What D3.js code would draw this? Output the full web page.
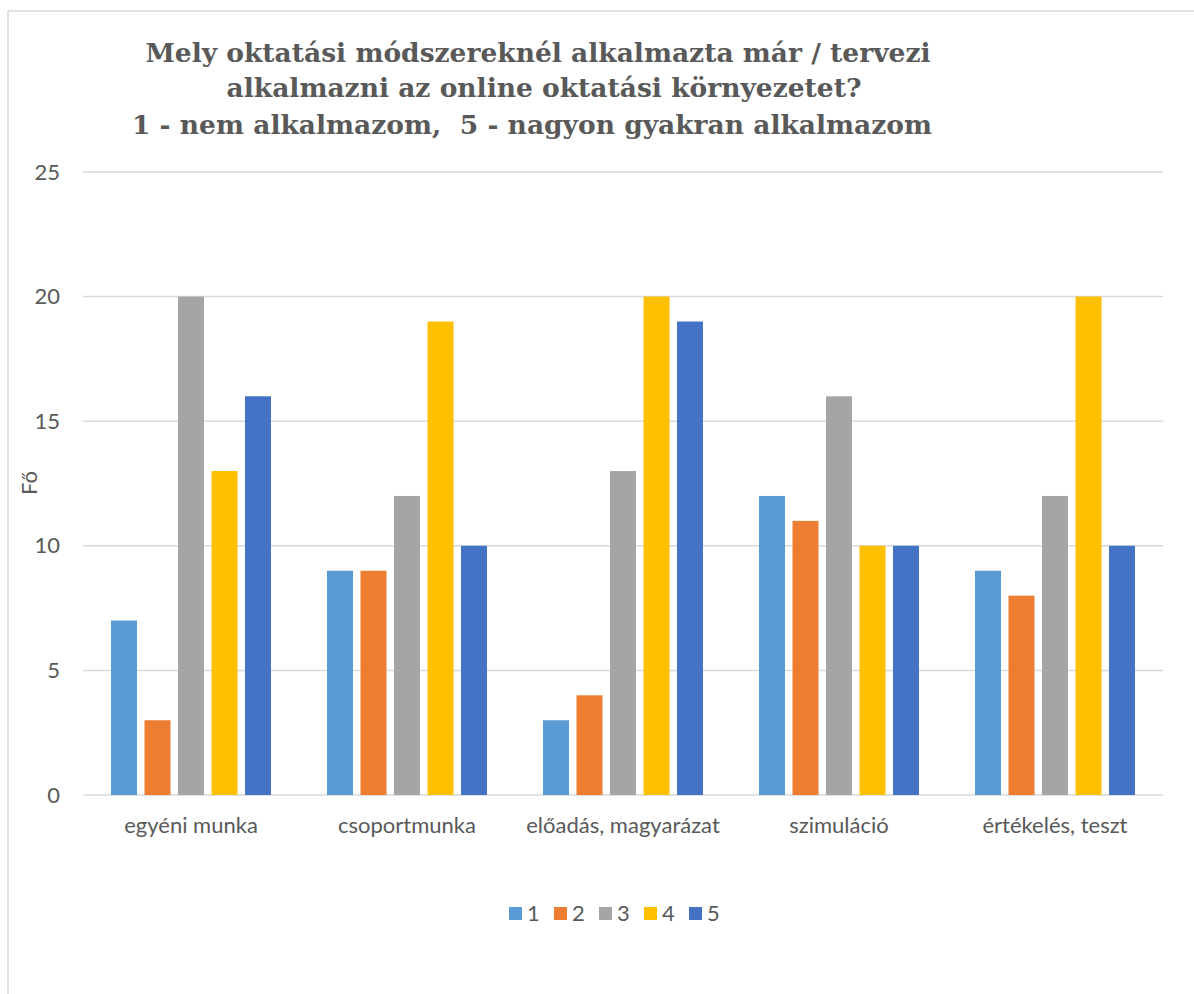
<!DOCTYPE html>
<html>
<head>
<meta charset="utf-8">
<script src="https://cdn.jsdelivr.net/npm/d3@7"></script>
<style>
  body { margin: 0; background: #fff; }
  svg { display: block; }
</style>
</head>
<body>
<svg id="chart" width="1194" height="994"></svg>
<script>
const categories = ['egyéni munka', 'csoportmunka', 'előadás, magyarázat', 'szimuláció', 'értékelés, teszt']
const seriesNames = ['1', '2', '3', '4', '5']
const s1 = [7, 9, 3, 12, 9]
const s2 = [3, 9, 4, 11, 8]
const s3 = [20, 12, 13, 16, 12]
const s4 = [13, 19, 20, 10, 20]
const s5 = [16, 10, 19, 10, 10]
const yTicks = [0, 5, 10, 15, 20, 25]
const colors = ['#5B9BD5', '#ED7D31', '#A5A5A5', '#FFC000', '#4472C4']
const titleLines = [
  'Mely oktatási módszereknél alkalmazta már / tervezi',
  'alkalmazni az online oktatási környezetet?',
  '1 - nem alkalmazom,  5 - nagyon gyakran alkalmazom'
]

const series = [s1, s2, s3, s4, s5]
const data = categories.map((c, i) => ({
  cat: c,
  values: series.map((s, j) => ({ key: seriesNames[j], value: s[i] }))
}))

const svg = d3.select('#chart')
const textColor = '#595959'
const gridColor = '#d9d9d9'
const sans = 'Lato, "Open Sans", sans-serif'

// frame of the chart area (cropped at right/bottom)
svg.append('path')
  .attr('d', 'M8,994 L8,11 L1194,11')
  .attr('fill', 'none')
  .attr('stroke', gridColor)
  .attr('stroke-width', 1.5)

// title
svg.append('text')
  .attr('y', 62)
  .attr('text-anchor', 'middle')
  .attr('fill', textColor)
  .style('font-family', '"DejaVu Serif", serif')
  .style('font-weight', 'bold')
  .style('font-size', '26.5px')
  .style('white-space', 'pre')
  .selectAll('tspan')
  .data(titleLines)
  .join('tspan')
    .attr('x', (d, i) => [538, 544, 532][i])
    .attr('y', (d, i) => [62, 97, 134][i])
    .text(d => d)

const plotLeft = 83, plotRight = 1163, plotTop = 172, plotBottom = 795

const x0 = d3.scaleBand().domain(categories).range([plotLeft, plotRight])
const x1 = d3.scaleBand().domain(seriesNames)
  .range([24.25, x0.bandwidth() - 24.25])
  .paddingInner(0.224)
  .paddingOuter(0.112)
const y = d3.scaleLinear().domain([0, 25]).range([plotBottom, plotTop])

// gridlines
svg.append('g')
  .selectAll('line')
  .data(yTicks)
  .join('line')
    .attr('x1', plotLeft)
    .attr('x2', plotRight)
    .attr('y1', d => y(d))
    .attr('y2', d => y(d))
    .attr('stroke', gridColor)
    .attr('stroke-width', 1.5)

// y axis labels
const yAxis = svg.append('g')
  .attr('transform', `translate(${plotLeft - 23},0)`)
  .call(d3.axisLeft(y).tickValues(yTicks).tickSize(0).tickPadding(0))
yAxis.select('.domain').remove()
yAxis.selectAll('text')
  .attr('fill', textColor)
  .style('font-family', sans)
  .style('font-size', '22px')

// bars
svg.append('g')
  .selectAll('g')
  .data(data)
  .join('g')
    .attr('transform', d => `translate(${x0(d.cat)},0)`)
  .selectAll('rect')
  .data(d => d.values)
  .join('rect')
    .attr('x', d => x1(d.key))
    .attr('y', d => y(d.value))
    .attr('width', x1.bandwidth())
    .attr('height', d => y(0) - y(d.value))
    .attr('fill', (d, i) => colors[i])

// x axis labels
const xAxis = svg.append('g')
  .attr('transform', `translate(0,${plotBottom + 22})`)
  .call(d3.axisBottom(x0).tickSize(0).tickPadding(0))
xAxis.select('.domain').remove()
xAxis.selectAll('text')
  .attr('fill', textColor)
  .style('font-family', sans)
  .style('font-size', '22px')

// y title
svg.append('text')
  .attr('transform', 'translate(37,483) rotate(-90)')
  .attr('text-anchor', 'middle')
  .attr('fill', textColor)
  .style('font-family', sans)
  .style('font-size', '22px')
  .text('Fő')

// legend
const legend = svg.append('g')
  .attr('transform', 'translate(509,913)')
  .selectAll('g')
  .data(seriesNames)
  .join('g')
    .attr('transform', (d, i) => `translate(${i * 45},0)`)
legend.append('rect')
  .attr('x', 0)
  .attr('y', -6)
  .attr('width', 13)
  .attr('height', 13)
  .attr('fill', (d, i) => colors[i])
legend.append('text')
  .attr('x', 18)
  .attr('y', 8)
  .attr('fill', textColor)
  .style('font-family', sans)
  .style('font-size', '22px')
  .text(d => d)
</script>
</body>
</html>
